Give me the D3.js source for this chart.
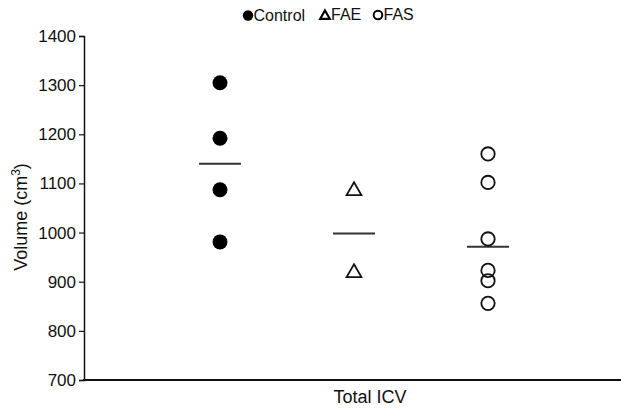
<!DOCTYPE html>
<html>
<head>
<meta charset="utf-8">
<script src="https://cdn.jsdelivr.net/npm/d3@7"></script>
<style>
  html, body { margin: 0; padding: 0; background: #fff; }
  svg { display: block; font-family: "Liberation Sans", Arial, Helvetica, sans-serif; }
</style>
</head>
<body>
<svg id="chart" width="621" height="410"></svg>
<script>
// ---- data ----
const groups = ["Control", "FAE", "FAS"];
const controlValues = [1305, 1192, 1087, 981];
const faeValues = [1085, 918];
const fasValues = [1160, 1102, 987, 923, 902, 856];
const groupMeans = [1140, 998, 971];
const yTicks = [700, 800, 900, 1000, 1100, 1200, 1300, 1400];
const xLabel = "Total ICV";

const svg = d3.select("#chart");
const W = 621, H = 410;

const y = d3.scaleLinear().domain([700, 1400]).range([380, 36]);
const x = d3.scalePoint().domain(groups).range([86, 622]).padding(1);

// y axis
const yAxis = d3.axisLeft(y).tickValues(yTicks).tickSize(5).tickPadding(3).tickFormat(d3.format("d"));
const gy = svg.append("g").attr("transform", "translate(84,0)").call(yAxis);
gy.select(".domain").attr("stroke", "#111").attr("stroke-width", 1.5);
gy.selectAll(".tick line").attr("stroke", "#111").attr("stroke-width", 1.2);
gy.selectAll(".tick text").attr("font-size", 17).attr("fill", "#111")
  .attr("font-family", "'Liberation Sans', Arial, sans-serif");

// x axis line (no ticks)
svg.append("line").attr("x1", 83).attr("x2", W).attr("y1", y(700)).attr("y2", y(700))
  .attr("stroke", "#111").attr("stroke-width", 2);

svg.append("text").attr("x", 370).attr("y", 403).attr("text-anchor", "middle")
  .attr("font-size", 18).attr("fill", "#111").text(xLabel);

// y label
const yl = svg.append("text").attr("transform", "translate(27,217) rotate(-90)")
  .attr("text-anchor", "middle").attr("font-size", 18).attr("fill", "#111");
yl.append("tspan").text("Volume (cm");
yl.append("tspan").attr("font-size", 12).attr("dy", -7).text("3");
yl.append("tspan").attr("dy", 7).text(")");

// mean lines
svg.append("g").selectAll("line").data(groups).join("line")
  .attr("x1", d => x(d) - 21).attr("x2", d => x(d) + 21)
  .attr("y1", (d, i) => y(groupMeans[i])).attr("y2", (d, i) => y(groupMeans[i]))
  .attr("stroke", "#333").attr("stroke-width", 2);

// Control: filled circles
svg.append("g").selectAll("circle").data(controlValues).join("circle")
  .attr("cx", x("Control")).attr("cy", d => y(d)).attr("r", 7.5).attr("fill", "#000");

// FAE: open triangles
const tri = d3.symbol().type(d3.symbolTriangle).size(95);
svg.append("g").selectAll("path").data(faeValues).join("path")
  .attr("d", tri)
  .attr("transform", d => `translate(${x("FAE")},${y(d)})`)
  .attr("fill", "none").attr("stroke", "#111").attr("stroke-width", 1.8);

// FAS: open circles
svg.append("g").selectAll("circle").data(fasValues).join("circle")
  .attr("cx", x("FAS")).attr("cy", d => y(d)).attr("r", 6.7)
  .attr("fill", "none").attr("stroke", "#111").attr("stroke-width", 1.8);

// legend
const lg = svg.append("g");
lg.append("circle").attr("cx", 248).attr("cy", 15.5).attr("r", 5.2).attr("fill", "#000");
lg.append("text").attr("x", 253.5).attr("y", 21).attr("font-size", 16).attr("fill", "#111").text(groups[0]);
lg.append("path").attr("d", d3.symbol().type(d3.symbolTriangle).size(40))
  .attr("transform", "translate(325,16)").attr("fill", "none").attr("stroke", "#000").attr("stroke-width", 2.2);
lg.append("text").attr("x", 331).attr("y", 20).attr("font-size", 16).attr("fill", "#111").text(groups[1]);
lg.append("circle").attr("cx", 378).attr("cy", 15).attr("r", 4.3)
  .attr("fill", "none").attr("stroke", "#000").attr("stroke-width", 2);
lg.append("text").attr("x", 383.5).attr("y", 20).attr("font-size", 16).attr("fill", "#111").text(groups[2]);
</script>
</body>
</html>
